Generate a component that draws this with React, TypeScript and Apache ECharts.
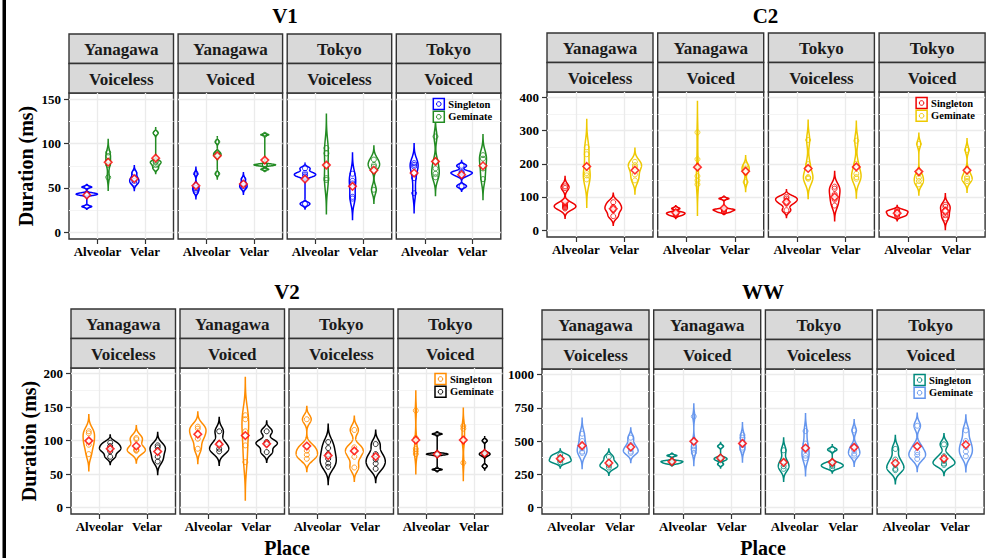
import React, { useEffect, useRef } from "react";
import * as echarts from "echarts";

// ---------- data ----------
const facetDialect = ["Yanagawa", "Yanagawa", "Tokyo", "Tokyo"];
const facetVoicing = ["Voiceless", "Voiced", "Voiceless", "Voiced"];
const places = ["Alveolar", "Velar"];
const groups = ["Singleton", "Geminate"];

// [facet][place] -> observations (ms)
const v1Singleton = [
  [[29, 42, 43, 44, 51], [55, 58, 61, 67]],
  [[45, 48, 50, 53, 66], [50, 52, 55, 60]],
  [[32, 63, 65, 67, 72], [38, 40, 55, 58, 66]],
  [[44, 61, 74, 76, 78], [52, 64, 67, 68, 75]],
];
const v1Geminate = [
  [[62, 76, 80, 86, 90], [72, 76, 79, 80, 112]],
  [[66, 86, 88, 90, 102], [71, 75, 76, 76, 77, 110]],
  [[59, 61, 89, 95], [48, 74, 76, 82]],
  [[62, 66, 72, 80, 108], [60, 72, 83, 87]],
];
const v1SingletonMean = [[42, 60.4], [52.5, 54.4], [60, 51.8], [66.8, 64.9]];
const v1GeminateMean = [[79, 83.6], [86.3, 81.4], [75.8, 70], [79.9, 75]];
const v1Ticks = [0, 50, 100, 150];

const c2Singleton = [
  [[65, 68, 70, 73, 76, 80, 127, 132], [42, 60, 70, 84]],
  [[44, 48, 51, 54, 65], [54, 58, 61, 63, 95]],
  [[60, 80, 88, 95, 100], [74, 92, 108, 125, 131]],
  [[42, 46, 52, 56, 60], [35, 45, 60, 70, 76]],
];
const c2Geminate = [
  [[153, 165, 172, 229, 250], [150, 168, 190, 196, 206]],
  [[138, 150, 163, 214, 295], [145, 178, 186, 196]],
  [[155, 158, 160, 199, 272], [155, 160, 170, 200, 270]],
  [[138, 148, 158, 170, 260], [148, 155, 160, 178, 242]],
];
const c2SingletonMean = [[87, 64], [52.4, 66], [85, 100], [51, 57]];
const c2GeminateMean = [[192, 180.7], [190, 177.6], [186, 190.8], [176.6, 180.7]];
const c2Ticks = [0, 100, 200, 300, 400];

const v2Singleton = [
  [[80, 94, 100, 111, 114], [85, 86, 87, 102, 104]],
  [[88, 103, 110, 118, 121], [68, 93, 114, 132, 138]],
  [[73, 79, 85, 92, 132], [60, 76, 85, 90, 116]],
  [[80, 84, 88, 104, 145], [67, 100, 102, 118, 122]],
];
const v2Geminate = [
  [[76, 84, 88, 92, 97], [69, 76, 84, 90, 93]],
  [[84, 88, 96, 114], [83, 95, 98, 114]],
  [[61, 66, 73, 80, 89, 98], [58, 66, 72, 80, 95]],
  [[57, 79, 80, 81, 110], [62, 78, 80, 82, 100]],
];
const v2SingletonMean = [[99.8, 92], [109.7, 107.7], [92, 84.8], [101, 101]];
const v2GeminateMean = [[87.8, 83.8], [94.8, 95.3], [77.8, 76.3], [79.8, 81.3]];
const v2Ticks = [0, 50, 100, 150, 200];

const wwSingleton = [
  [[340, 355, 375, 395], [300, 315, 340, 380]],
  [[330, 338, 345, 350, 390], [325, 355, 365, 375, 460]],
  [[290, 310, 345, 430], [295, 310, 320, 335, 435]],
  [[280, 290, 320, 360, 440], [320, 330, 350, 385, 475]],
];
const wwGeminate = [
  [[410, 420, 445, 500, 555], [410, 420, 440, 470, 525]],
  [[410, 435, 460, 500, 685], [435, 450, 475, 525, 545]],
  [[370, 390, 430, 480, 575], [390, 405, 430, 460, 580]],
  [[365, 395, 415, 460, 615], [385, 420, 455, 500, 580]],
];
const wwSingletonMean = [[367, 334], [344, 372], [339, 339], [334, 367]];
const wwGeminateMean = [[465, 455], [497.6, 482], [447, 452], [460, 472]];
const wwTicks = [0, 250, 500, 750, 1000];

const panelTitles = ["V1", "C2", "V2", "WW"];

// ---------- layout / style ----------
const FONT = '"Liberation Serif", "DejaVu Serif", serif';
const layout = [
  { tx: 285, ty: 16, left0: 69, step: 109.1, w: 104.5, top: 93, bottom: 239, stripTop: 34, ymin: -7.6, ymax: 157.1, colors: ["#0000FF", "#228B22"], yTitle: [26, 166], xTitle: null },
  { tx: 765.5, ty: 16, left0: 547, step: 110.7, w: 106, top: 92, bottom: 237, stripTop: 33, ymin: -21, ymax: 417, colors: ["#EE0000", "#EEC900"], yTitle: null, xTitle: null },
  { tx: 287, ty: 292, left0: 71, step: 109, w: 104.5, top: 368, bottom: 514, stripTop: 309, ymin: -9.4, ymax: 208.5, colors: ["#FF8C00", "#000000"], yTitle: [28.5, 441], xTitle: [287, 548] },
  { tx: 763, ty: 292, left0: 542, step: 111.7, w: 107, top: 369, bottom: 514, stripTop: 310, ymin: -50.5, ymax: 1043, colors: ["#00897B", "#6495ED"], yTitle: null, xTitle: [763, 548] },
];

const panelData = [
  { s: v1Singleton, g: v1Geminate, sm: v1SingletonMean, gm: v1GeminateMean, ticks: v1Ticks },
  { s: c2Singleton, g: c2Geminate, sm: c2SingletonMean, gm: c2GeminateMean, ticks: c2Ticks },
  { s: v2Singleton, g: v2Geminate, sm: v2SingletonMean, gm: v2GeminateMean, ticks: v2Ticks },
  { s: wwSingleton, g: wwGeminate, sm: wwSingletonMean, gm: wwGeminateMean, ticks: wwTicks },
];

// ---------- kernel density (ggplot geom_violin, trim = FALSE) ----------
function q7(sorted: number[], p: number) {
  const h = (sorted.length - 1) * p;
  const lo = Math.floor(h);
  const hi = Math.ceil(h);
  return sorted[lo] + (h - lo) * (sorted[hi] - sorted[lo]);
}
function bwNrd0(x: number[]) {
  const n = x.length;
  const mean = x.reduce((a, b) => a + b, 0) / n;
  const sd = Math.sqrt(x.reduce((a, b) => a + (b - mean) * (b - mean), 0) / (n - 1));
  const s = [...x].sort((a, b) => a - b);
  const iqr = q7(s, 0.75) - q7(s, 0.25);
  let lo = Math.min(sd, iqr / 1.34);
  if (!(lo > 0)) lo = sd || Math.abs(x[0]) || 1;
  return 0.9 * lo * Math.pow(n, -0.2);
}
function densityCurve(x: number[]) {
  const bw = bwNrd0(x);
  const lo = Math.min(...x) - 3 * bw;
  const hi = Math.max(...x) + 3 * bw;
  const N = 256;
  const ys: number[] = [];
  const ds: number[] = [];
  for (let i = 0; i < N; i++) {
    const y = lo + ((hi - lo) * i) / (N - 1);
    let d = 0;
    for (const xi of x) {
      const z = (y - xi) / bw;
      d += Math.exp(-0.5 * z * z) / Math.sqrt(2 * Math.PI);
    }
    ys.push(y);
    ds.push(d / (x.length * bw));
  }
  return { ys, ds };
}

const DODGE = 0.225;

function buildOption() {
  const grid: any[] = [];
  const xAxis: any[] = [];
  const yAxis: any[] = [];
  const series: any[] = [];
  const graphic: any[] = [];

  graphic.push({ type: "rect", shape: { x: 2.5, y: 0, width: 3.5, height: 558 }, style: { fill: "#000" }, z: 100 });

  layout.forEach((L, p) => {
    const D = panelData[p];
    const ticks = D.ticks;
    const minor = ticks.slice(1).map((t, i) => (t + ticks[i]) / 2);
    const plotH = L.bottom - L.top;
    const stripH = (L.top - L.stripTop) / 2;

    graphic.push({
      type: "text",
      x: L.tx,
      y: L.ty,
      style: { text: panelTitles[p], font: `bold 21px ${FONT}`, fill: "#000", align: "center", verticalAlign: "middle", textAlign: "center", textVerticalAlign: "middle" },
    });
    if (L.yTitle) {
      graphic.push({
        type: "text",
        x: L.yTitle[0],
        y: L.yTitle[1],
        rotation: Math.PI / 2,
        style: { text: "Duration (ms)", font: `bold 20px ${FONT}`, fill: "#000", align: "center", verticalAlign: "middle", textAlign: "center", textVerticalAlign: "middle" },
      });
    }
    if (L.xTitle) {
      graphic.push({
        type: "text",
        x: L.xTitle[0],
        y: L.xTitle[1],
        style: { text: "Place", font: `bold 20px ${FONT}`, fill: "#000", align: "center", verticalAlign: "middle", textAlign: "center", textVerticalAlign: "middle" },
      });
    }

    for (let f = 0; f < 4; f++) {
      const g = p * 4 + f;
      const left = L.left0 + f * L.step;
      grid.push({ left, top: L.top, width: L.w, height: plotH, show: true, borderColor: "#333333", borderWidth: 1.4, backgroundColor: "#fff", containLabel: false });

      // strips
      const labels = [facetDialect[f], facetVoicing[f]];
      labels.forEach((lab, k) => {
        const y0 = L.stripTop + k * stripH;
        graphic.push({ type: "rect", shape: { x: left, y: y0, width: L.w, height: stripH }, style: { fill: "#D9D9D9", stroke: "#333333", lineWidth: 1.4 } });
        graphic.push({
          type: "text",
          x: left + L.w / 2,
          y: y0 + stripH / 2 + 1,
          style: { text: lab, font: `bold 17px ${FONT}`, fill: "#1A1A1A", align: "center", verticalAlign: "middle", textAlign: "center", textVerticalAlign: "middle" },
        });
      });

      xAxis.push({
        type: "value",
        gridIndex: g,
        min: 0.4,
        max: 2.6,
        axisLine: { show: false, onZero: false },
        axisTick: { show: true, customValues: [1, 2], length: 5, lineStyle: { color: "#333333", width: 1.2 } },
        axisLabel: { show: true, customValues: [1, 2], formatter: (v: number) => places[Math.round(v) - 1], margin: 6, fontFamily: FONT, fontWeight: "bold", fontSize: 13, color: "#000" },
        splitLine: { show: true, lineStyle: { color: "#EBEBEB", width: 1.3 } },
      });
      yAxis.push({
        type: "value",
        gridIndex: g,
        min: L.ymin,
        max: L.ymax,
        axisLine: { show: false, onZero: false },
        axisTick: { show: f === 0, customValues: ticks, length: 5, lineStyle: { color: "#333333", width: 1.2 } },
        axisLabel: { show: f === 0, customValues: ticks, formatter: (v: number) => String(v), margin: 8, fontFamily: FONT, fontWeight: "bold", fontSize: 13, color: "#000" },
        splitLine: { show: true, lineStyle: { color: "#EBEBEB", width: 1.3 } },
      });
      yAxis.push({
        type: "value",
        gridIndex: g,
        position: "left",
        min: L.ymin,
        max: L.ymax,
        axisLine: { show: false, onZero: false },
        axisTick: { show: false, customValues: minor },
        axisLabel: { show: false, customValues: minor },
        splitLine: { show: true, lineStyle: { color: "#F4F4F4", width: 1 } },
      });

      // violins
      const viol: any[] = [];
      for (let pl = 0; pl < 2; pl++) {
        for (let gr = 0; gr < 2; gr++) {
          const obs = (gr === 0 ? D.s : D.g)[f][pl];
          const cx = pl + 1 + (gr === 0 ? -DODGE : DODGE);
          viol.push({ cx, gr, pl, obs, ...densityCurve(obs) });
        }
      }
      const maxD = Math.max(...viol.map((v) => Math.max(...v.ds)));
      viol.forEach((v) => {
        const right = v.ys.map((y: number, i: number) => [v.cx + (v.ds[i] / maxD) * DODGE, y]);
        const leftSide = v.ys.map((y: number, i: number) => [v.cx - (v.ds[i] / maxD) * DODGE, y]).reverse();
        v.poly = right.concat(leftSide);
      });

      series.push({
        type: "custom",
        xAxisIndex: g,
        yAxisIndex: g * 2,
        silent: true,
        z: 3,
        data: viol.map((v) => [v.cx, v.ys[0]]),
        renderItem: (params: any, api: any) => {
          const v = viol[params.dataIndex];
          return {
            type: "polygon",
            shape: { points: v.poly.map((pt: number[]) => api.coord(pt)) },
            style: { fill: "rgba(0,0,0,0)", stroke: L.colors[v.gr], lineWidth: 1.5 },
          };
        },
      });

      for (let gr = 0; gr < 2; gr++) {
        const pts: number[][] = [];
        for (let pl = 0; pl < 2; pl++) {
          const cx = pl + 1 + (gr === 0 ? -DODGE : DODGE);
          (gr === 0 ? D.s : D.g)[f][pl].forEach((y: number) => pts.push([cx, y]));
        }
        series.push({
          type: "scatter",
          name: groups[gr],
          xAxisIndex: g,
          yAxisIndex: g * 2,
          silent: true,
          z: 4,
          symbol: "circle",
          symbolSize: 5,
          itemStyle: { color: "rgba(255,255,255,0)", borderColor: L.colors[gr], borderWidth: 1 },
          data: pts,
        });
      }
      const means: number[][] = [];
      for (let pl = 0; pl < 2; pl++) {
        means.push([pl + 1 - DODGE, D.sm[f][pl]]);
        means.push([pl + 1 + DODGE, D.gm[f][pl]]);
      }
      series.push({
        type: "scatter",
        xAxisIndex: g,
        yAxisIndex: g * 2,
        silent: true,
        z: 5,
        symbol: "diamond",
        symbolSize: 7.5,
        itemStyle: { color: "#fff", borderColor: "#FF0000", borderWidth: 1.6 },
        data: means,
      });

      // legend inside the last facet
      if (f === 3) {
        for (let gr = 0; gr < 2; gr++) {
          const kx = left + 37;
          const ky = L.top + 5.5 + gr * 12.8;
          graphic.push({ type: "rect", z: 50, shape: { x: kx, y: ky, width: 11, height: 11 }, style: { fill: "#fff", stroke: L.colors[gr], lineWidth: 1.5 } });
          graphic.push({ type: "circle", z: 51, shape: { cx: kx + 5.5, cy: ky + 5.5, r: 2.3 }, style: { fill: "none", stroke: L.colors[gr], lineWidth: 1 } });
          graphic.push({
            type: "text",
            z: 51,
            x: kx + 15,
            y: ky + 5.5,
            style: { text: groups[gr], font: `bold 10.5px ${FONT}`, fill: "#000", align: "left", verticalAlign: "middle", textAlign: "left", textVerticalAlign: "middle" },
          });
        }
      }
    }
  });

  return { animation: false, backgroundColor: "#fff", grid, xAxis, yAxis, series, graphic };
}

export default function App() {
  const ref = useRef<HTMLDivElement>(null);
  useEffect(() => {
    if (!ref.current) return;
    const chart = echarts.init(ref.current, undefined, { renderer: "svg" });
    chart.setOption(buildOption() as any);
    return () => chart.dispose();
  }, []);
  return <div ref={ref} style={{ position: "fixed", left: 0, top: 0, width: 994, height: 558, background: "#fff" }} />;
}
